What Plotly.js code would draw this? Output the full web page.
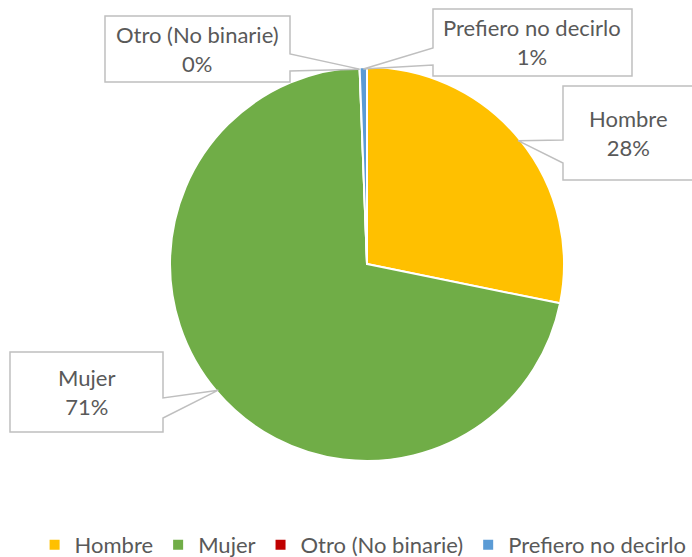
<!DOCTYPE html>
<html>
<head>
<meta charset="utf-8">
<script src="https://cdn.plot.ly/plotly-3.0.1.min.js"></script>
<style>html,body{margin:0;padding:0;background:#fff;}#chart{width:692px;height:557px;}</style>
</head>
<body>
<div id="chart"></div>
<script>
// ---- data ----
const categories = ["Hombre", "Mujer", "Otro (No binarie)", "Prefiero no decirlo"];
const values = [28.2, 71.2, 0, 0.6];
const colors = ["#FFC000", "#70AD47", "#C00000", "#5B9BD5"];

// ---- layout constants (pixels) ----
const W = 692, H = 557;
const cx = 367, cy = 264, R = 195;
const callouts = [
  {rect: [563, 86, 700, 180], side: "left",  base: [140, 163]},  // Hombre
  {rect: [10, 352, 163, 432], side: "right", base: [398, 418]},  // Mujer
  {rect: [105, 16, 290, 82],  side: "right", base: [54, 71]},    // Otro
  {rect: [433, 9, 632, 76],   side: "left",  base: [48, 65]}     // Prefiero
];
const textCenters = [[628, 133], [86, 392], [197, 49], [532, 42]];

const px = x => x / W;
const py = y => 1 - y / H;
const total = values.reduce((a, b) => a + b, 0);

const shapes = [];
const annotations = [];
let cum = 0;
values.forEach((v, i) => {
  const mid = (cum + v / 2) / total;
  cum += v;
  const th = 2 * Math.PI * mid;
  const tx = cx + R * Math.sin(th), ty = cy - R * Math.cos(th);
  const c = callouts[i];
  const [x0, y0, x1, y1] = c.rect;
  const [ya, yb] = c.base;
  let pts;
  if (c.side === "right") {
    pts = [[x0, y0], [x1, y0], [x1, ya], [tx, ty], [x1, yb], [x1, y1], [x0, y1]];
  } else {
    pts = [[x0, y0], [x1, y0], [x1, y1], [x0, y1], [x0, yb], [tx, ty], [x0, ya]];
  }
  const path = "M" + pts.map(p => px(p[0]).toFixed(5) + "," + py(p[1]).toFixed(5)).join(" L") + " Z";
  shapes.push({type: "path", xref: "paper", yref: "paper", path: path,
    fillcolor: "#ffffff", line: {color: "#BFBFBF", width: 1.5}, layer: "above"});
  annotations.push({
    xref: "paper", yref: "paper",
    x: px(textCenters[i][0]), y: py(textCenters[i][1]),
    xanchor: "center", yanchor: "middle", align: "center", showarrow: false,
    text: categories[i] + "<br>" + Math.round(v / total * 100) + "%",
    font: {family: "Lato, 'Open Sans', sans-serif", size: 22, color: "#595959"}
  });
});

const Rd = R + 2; // domain radius (compensates for slice outline)
const trace = {
  type: "pie",
  labels: categories,
  values: values,
  sort: false,
  direction: "clockwise",
  rotation: 0,
  textinfo: "none",
  hoverinfo: "label+percent",
  marker: {colors: colors, line: {color: "#ffffff", width: 2}},
  domain: {x: [px(cx - Rd), px(cx + Rd)], y: [py(cy + Rd), py(cy - Rd)]}
};

const layout = {
  width: W, height: H,
  margin: {l: 0, r: 0, t: 0, b: 0, autoexpand: false},
  paper_bgcolor: "#ffffff",
  showlegend: true,
  legend: {
    orientation: "h", x: 0.05, xanchor: "left", y: py(545), yanchor: "middle",
    font: {family: "Lato, 'Open Sans', sans-serif", size: 22, color: "#595959"},
    traceorder: "normal"
  },
  shapes: shapes,
  annotations: annotations
};

Plotly.newPlot("chart", [trace], layout, {displayModeBar: false, staticPlot: true});
</script>
</body>
</html>
